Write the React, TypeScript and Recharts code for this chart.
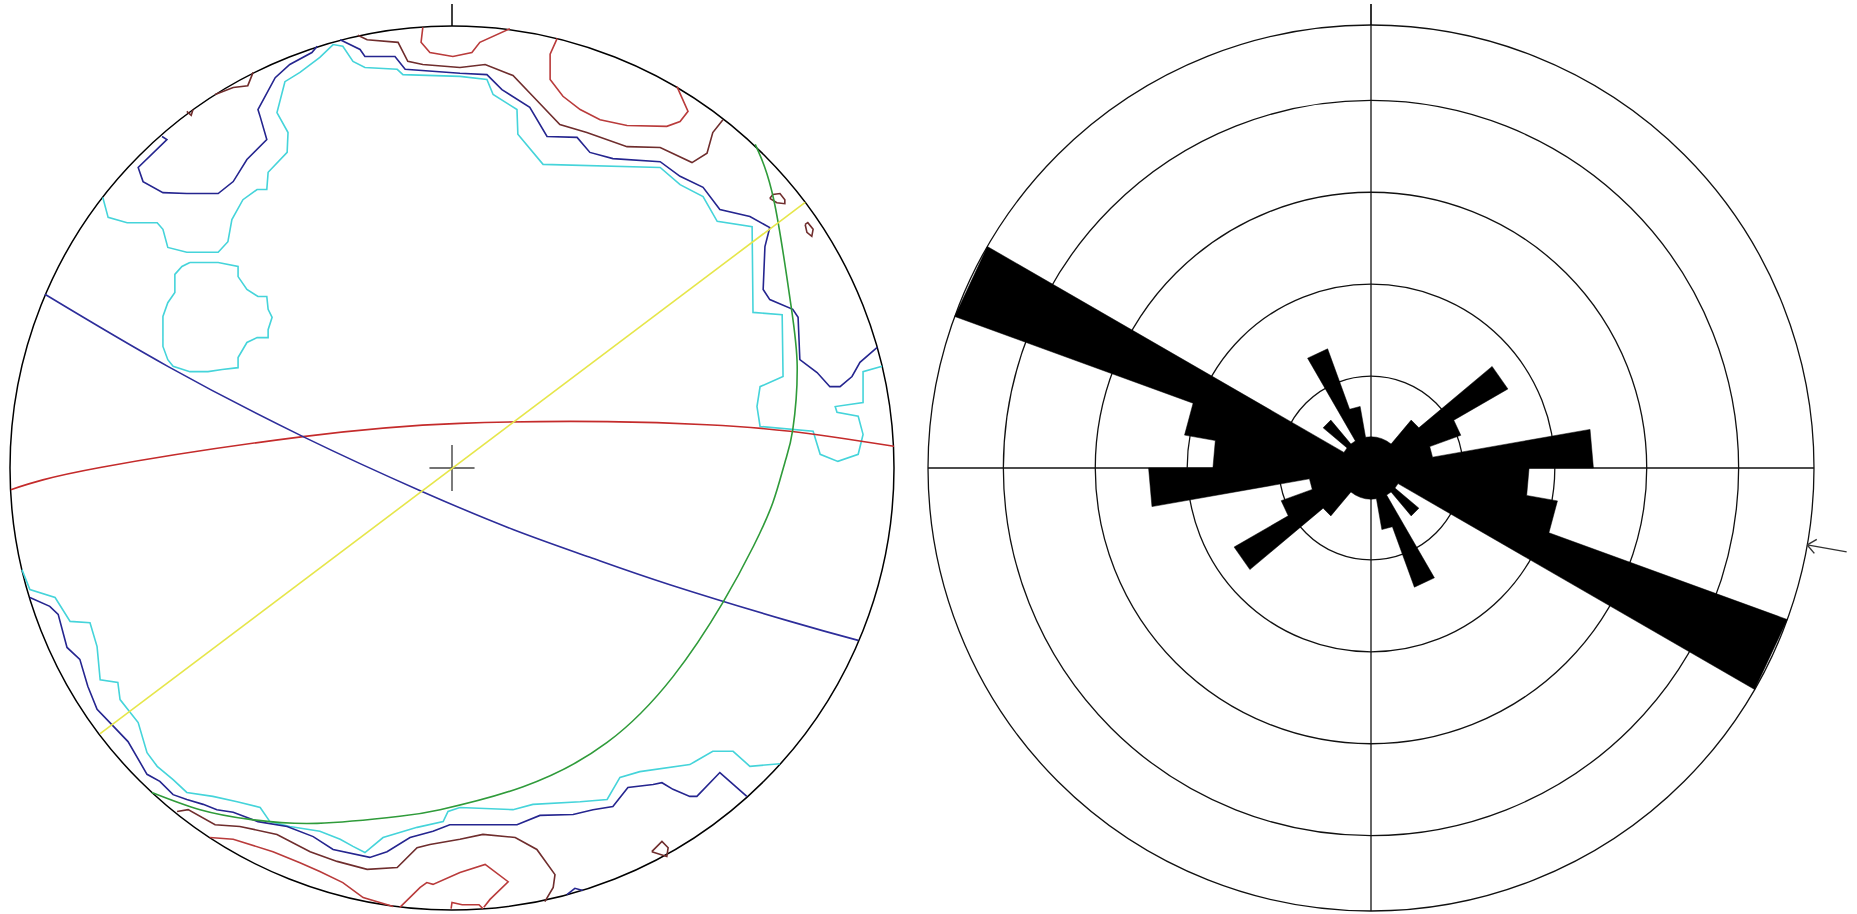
import React from "react";
import {
  ScatterChart,
  Scatter,
  XAxis,
  YAxis,
  ReferenceDot,
  ReferenceLine,
  RadarChart,
  Radar,
  PolarGrid,
  PolarAngleAxis,
  PolarRadiusAxis,
} from "recharts";

// ---------- stereonet (unit-circle projection coords, x east, y north) ----------

const cyanNorth = [
  [-0.79, 0.612], [-0.778, 0.567], [-0.735, 0.555], [-0.667, 0.555], [-0.654, 0.54],
  [-0.643, 0.499], [-0.6, 0.488], [-0.529, 0.488], [-0.507, 0.512], [-0.498, 0.562],
  [-0.473, 0.607], [-0.441, 0.63], [-0.419, 0.63], [-0.416, 0.669], [-0.373, 0.714],
  [-0.371, 0.759], [-0.396, 0.804], [-0.378, 0.874], [-0.344, 0.895], [-0.299, 0.929],
  [-0.269, 0.958], [-0.247, 0.954], [-0.224, 0.92], [-0.197, 0.906], [-0.124, 0.902],
  [-0.111, 0.89], [0.018, 0.886], [0.079, 0.879], [0.093, 0.845], [0.147, 0.811],
  [0.149, 0.755], [0.206, 0.687], [0.471, 0.68], [0.516, 0.641], [0.568, 0.614],
  [0.6, 0.558], [0.679, 0.546], [0.681, 0.352], [0.747, 0.347], [0.749, 0.207],
  [0.697, 0.184], [0.69, 0.139], [0.697, 0.094], [0.817, 0.083], [0.833, 0.031],
  [0.873, 0.015], [0.919, 0.031], [0.93, 0.076], [0.919, 0.117], [0.871, 0.126],
  [0.867, 0.139], [0.93, 0.148], [0.93, 0.218], [0.973, 0.23],
];

const cyanIsland = [
  [-0.593, 0.465], [-0.529, 0.465], [-0.484, 0.456], [-0.484, 0.433], [-0.464, 0.404],
  [-0.439, 0.388], [-0.419, 0.388], [-0.416, 0.359], [-0.407, 0.341], [-0.416, 0.313],
  [-0.416, 0.295], [-0.441, 0.295], [-0.464, 0.284], [-0.484, 0.25], [-0.484, 0.227],
  [-0.52, 0.223], [-0.552, 0.218], [-0.593, 0.218], [-0.631, 0.23], [-0.643, 0.245],
  [-0.654, 0.275], [-0.654, 0.343], [-0.643, 0.374], [-0.627, 0.397], [-0.627, 0.438],
  [-0.611, 0.456], [-0.593, 0.465],
];

const cyanSouth = [
  [-0.973, -0.23], [-0.955, -0.275], [-0.898, -0.293], [-0.864, -0.347], [-0.819, -0.35],
  [-0.803, -0.404], [-0.796, -0.479], [-0.756, -0.485], [-0.751, -0.524], [-0.71, -0.576],
  [-0.69, -0.644], [-0.667, -0.675], [-0.631, -0.705], [-0.6, -0.734], [-0.541, -0.743],
  [-0.486, -0.755], [-0.434, -0.768], [-0.412, -0.8], [-0.367, -0.811], [-0.299, -0.822],
  [-0.253, -0.84], [-0.224, -0.856], [-0.197, -0.87], [-0.156, -0.836], [-0.079, -0.813],
  [-0.02, -0.8], [-0.009, -0.777], [0.018, -0.768], [0.138, -0.773], [0.183, -0.761],
  [0.29, -0.755], [0.351, -0.75], [0.38, -0.7], [0.425, -0.687], [0.538, -0.671],
  [0.55, -0.664], [0.59, -0.641], [0.636, -0.641], [0.674, -0.675], [0.742, -0.669],
];

const navyNorthWest = [
  [-0.656, 0.75], [-0.645, 0.743], [-0.71, 0.68], [-0.699, 0.648], [-0.654, 0.623],
  [-0.6, 0.621], [-0.529, 0.621], [-0.495, 0.648], [-0.464, 0.698], [-0.419, 0.743],
  [-0.434, 0.795], [-0.439, 0.811], [-0.4, 0.883], [-0.367, 0.913], [-0.317, 0.94],
  [-0.305, 0.954],
];

const navyNorth = [
  [-0.253, 0.969], [-0.208, 0.947], [-0.197, 0.931], [-0.129, 0.931], [-0.106, 0.902],
  [0.018, 0.893], [0.079, 0.89], [0.113, 0.856], [0.176, 0.816], [0.215, 0.75],
  [0.283, 0.748], [0.312, 0.714], [0.364, 0.7], [0.471, 0.693], [0.516, 0.66],
  [0.568, 0.635], [0.606, 0.585], [0.674, 0.569], [0.719, 0.544], [0.708, 0.501],
  [0.704, 0.404], [0.719, 0.381], [0.771, 0.359], [0.783, 0.341], [0.787, 0.245],
  [0.826, 0.216], [0.855, 0.184], [0.878, 0.184], [0.905, 0.207], [0.923, 0.239],
  [0.962, 0.273],
];

const navySouth = [
  [-0.955, -0.293], [-0.91, -0.313], [-0.891, -0.331], [-0.871, -0.406], [-0.842, -0.433],
  [-0.824, -0.494], [-0.803, -0.546], [-0.774, -0.576], [-0.733, -0.619], [-0.69, -0.693],
  [-0.661, -0.709], [-0.631, -0.739], [-0.6, -0.75], [-0.563, -0.761], [-0.532, -0.773],
  [-0.495, -0.779], [-0.439, -0.8], [-0.373, -0.811], [-0.314, -0.834], [-0.269, -0.863],
  [-0.186, -0.881], [-0.147, -0.868], [-0.095, -0.836], [-0.043, -0.822], [-0.005, -0.807],
  [0.147, -0.807], [0.199, -0.786], [0.274, -0.784], [0.319, -0.773], [0.364, -0.766],
  [0.398, -0.723], [0.455, -0.716], [0.475, -0.712], [0.5, -0.727], [0.538, -0.743],
  [0.554, -0.743], [0.606, -0.689], [0.667, -0.743],
];

const navySouthSpeck = [[0.26, -0.965], [0.278, -0.951], [0.296, -0.956]];

const brownNorth = [
  [-0.213, 0.979], [-0.192, 0.969], [-0.122, 0.963], [-0.1, 0.92], [-0.066, 0.913],
  [0.018, 0.906], [0.075, 0.913], [0.138, 0.888], [0.183, 0.841], [0.244, 0.777],
  [0.305, 0.759], [0.396, 0.727], [0.471, 0.725], [0.543, 0.691], [0.577, 0.712],
  [0.59, 0.759], [0.613, 0.788],
];

const brownNorthWest = [[-0.536, 0.845], [-0.495, 0.861], [-0.462, 0.865], [-0.45, 0.895]];
const brownSpeck = [[-0.6, 0.807], [-0.59, 0.798], [-0.586, 0.811]];

const brownLoopA = [
  [0.719, 0.61], [0.726, 0.619], [0.742, 0.621], [0.753, 0.607], [0.753, 0.598],
  [0.735, 0.6], [0.719, 0.61],
];

const brownLoopB = [
  [0.799, 0.551], [0.805, 0.555], [0.817, 0.54], [0.814, 0.524], [0.803, 0.533],
  [0.799, 0.551],
];

const brownSouth = [
  [-0.622, -0.777], [-0.597, -0.773], [-0.536, -0.807], [-0.48, -0.811], [-0.396, -0.829],
  [-0.321, -0.868], [-0.26, -0.89], [-0.192, -0.908], [-0.124, -0.904], [-0.079, -0.859],
  [-0.05, -0.852], [0.018, -0.84], [0.07, -0.829], [0.143, -0.836], [0.192, -0.863],
  [0.233, -0.92], [0.229, -0.949], [0.21, -0.981],
];

const brownLoopSE = [[0.452, -0.868], [0.475, -0.845], [0.489, -0.859], [0.486, -0.879], [0.452, -0.868]];

const redNorth = [
  [-0.066, 0.997], [-0.07, 0.963], [-0.05, 0.94], [0.002, 0.931], [0.045, 0.94],
  [0.063, 0.963], [0.131, 0.994],
];

const redNorthEast = [
  [0.238, 0.972], [0.222, 0.936], [0.222, 0.879], [0.251, 0.841], [0.29, 0.811],
  [0.335, 0.788], [0.396, 0.775], [0.486, 0.773], [0.516, 0.784], [0.534, 0.807],
  [0.509, 0.863],
];

const redSouth = [
  [-0.548, -0.836], [-0.495, -0.84], [-0.405, -0.868], [-0.344, -0.893], [-0.299, -0.913],
  [-0.247, -0.938], [-0.201, -0.972], [-0.133, -0.992],
];

const redSouthLoop = [
  [-0.118, -0.994], [-0.072, -0.949], [-0.057, -0.938], [-0.043, -0.942], [0.018, -0.915],
  [0.075, -0.897], [0.127, -0.936], [0.086, -0.976], [0.072, -0.994],
];

const redSouthSpeck = [[-0.002, -0.997], [0.0, -0.983], [0.023, -0.988], [0.061, -0.988], [0.07, -0.997]];

// great circles / section line
const greatCircleBlue = [
  [-0.921, 0.393], [-0.643, 0.23], [-0.337, 0.071], [-0.068, -0.053], [0.138, -0.139],
  [0.312, -0.202], [0.493, -0.264], [0.765, -0.347], [0.919, -0.39],
];

const greatCircleRed = [
  [-0.998, -0.049], [-0.796, 0.001], [-0.337, 0.071], [0.018, 0.101],
  [0.351, 0.105], [0.577, 0.098], [0.765, 0.083], [1.0, 0.049],
];

const greatCircleGreen = [
  [0.686, 0.732], [0.728, 0.607], [0.765, 0.381], [0.781, 0.23], [0.771, 0.087],
  [0.753, 0.012], [0.726, -0.078], [0.682, -0.177], [0.613, -0.304], [0.5, -0.472],
  [0.351, -0.621], [0.161, -0.721], [-0.027, -0.773], [-0.118, -0.788], [-0.305, -0.804],
  [-0.457, -0.795], [-0.57, -0.773], [-0.679, -0.734],
];

const sectionLine = [[0.799, 0.601], [-0.796, -0.601]];

// ---------- rose diagram (axial data, % per 10° bin, 0–180 mirrored to 180–360) ----------

const BIN_WIDTH = 10;
const binStart = [0, 10, 20, 30, 40, 50, 60, 70, 80, 90, 100, 110, 120, 130, 140, 150, 160, 170];
const binPct = [1.7, 1.7, 1.7, 1.7, 3.4, 8.6, 5.2, 3.4, 12.1, 8.6, 10.3, 24.1, 1.7, 3.4, 1.7, 6.9, 3.4, 1.7];
const ringPct = [5, 10, 15, 20];
const NORTH_MARK = 0;
const ARROW_AZIMUTH = 100;

const MAX_PCT = Math.max(...binPct);

const roseBins = [
  ...binStart.map((a, i) => ({ from: a, pct: binPct[i] })),
  ...binStart.map((a, i) => ({ from: a + 180, pct: binPct[i] })),
];
const roseData = roseBins.flatMap((b) => [
  { angle: b.from, pct: b.pct },
  { angle: b.from + BIN_WIDTH, pct: b.pct },
]);

// ---------- layout ----------
const NET_R = 442;
const ROSE_R = 443;
const TICK_LEN = 40;

const xy = (p: number[][]) => p.map(([x, y]) => ({ x, y }));
const NoDot = () => <g />;

const CYAN = "#45d4da";
const NAVY = "#25258f";
const BROWN = "#6f2d2d";
const RED = "#b93b3b";

const contours: Array<[number[][], string]> = [
  [cyanNorth, CYAN], [cyanIsland, CYAN], [cyanSouth, CYAN],
  [navyNorthWest, NAVY], [navyNorth, NAVY], [navySouth, NAVY], [navySouthSpeck, NAVY],
  [brownNorth, BROWN], [brownNorthWest, BROWN], [brownSpeck, BROWN], [brownLoopA, BROWN],
  [brownLoopB, BROWN], [brownSouth, BROWN], [brownLoopSE, BROWN],
  [redNorth, RED], [redNorthEast, RED], [redSouth, RED], [redSouthLoop, RED], [redSouthSpeck, RED],
];

const greatCircles: Array<[number[][], string, string]> = [
  [greatCircleRed, "#c42b2b", "natural"],
  [greatCircleBlue, "#2d2d9a", "natural"],
  [greatCircleGreen, "#2f9b3a", "natural"],
  [sectionLine, "#e6e64a", "linear"],
];

function RoseMarker(props: any) {
  const { x, y, payload } = props;
  const deg = typeof payload?.coordinate === "number" ? payload.coordinate : 90 - payload.value;
  const a = (deg * Math.PI) / 180;
  const ux = Math.cos(-a);
  const uy = Math.sin(-a);
  const bx = x - ux * TICK_LEN;
  const by = y - uy * TICK_LEN;
  if (payload.value === NORTH_MARK) {
    return <line x1={bx} y1={by} x2={bx + ux * 21} y2={by + uy * 21} stroke="#000" strokeWidth={1.6} />;
  }
  const s = (40 * Math.PI) / 180;
  const h = 11;
  const rot = (t: number) => [ux * Math.cos(t) - uy * Math.sin(t), ux * Math.sin(t) + uy * Math.cos(t)];
  const [ax, ay] = rot(s);
  const [cx2, cy2] = rot(-s);
  return (
    <g stroke="#333" strokeWidth={1.4} fill="none">
      <line x1={bx} y1={by} x2={x} y2={y} />
      <line x1={bx} y1={by} x2={bx + ax * h} y2={by + ay * h} />
      <line x1={bx} y1={by} x2={bx + cx2 * h} y2={by + cy2 * h} />
    </g>
  );
}

export default function App() {
  const ringRadii = [...ringPct.map((p) => (p / MAX_PCT) * ROSE_R), ROSE_R];
  return (
    <div style={{ position: "absolute", left: 0, top: 0, width: 1857, height: 914, background: "#fff", overflow: "hidden" }}>
      <style>{"body{margin:0;overflow:hidden}"}</style>

      <div style={{ position: "absolute", left: 0, top: 0 }}>
        <ScatterChart width={904} height={914} margin={{ top: 26, right: 10, bottom: 4, left: 10 }}>
          <XAxis type="number" dataKey="x" domain={[-1, 1]} hide allowDataOverflow />
          <YAxis type="number" dataKey="y" domain={[-1, 1]} hide allowDataOverflow />
          <ReferenceDot x={0} y={0} r={NET_R} fill="none" stroke="#000" strokeWidth={1.5} ifOverflow="visible" />
          <ReferenceLine segment={[{ x: 0, y: 1 }, { x: 0, y: 1.05 }]} stroke="#000" strokeWidth={1.5} ifOverflow="visible" />
          {contours.map(([p, c], i) => (
            <Scatter
              key={"c" + i}
              data={xy(p)}
              fill={c}
              line={{ stroke: c, strokeWidth: 1.6 }}
              lineJointType="linear"
              shape={NoDot}
              isAnimationActive={false}
            />
          ))}
          {greatCircles.map(([p, c, t], i) => (
            <Scatter
              key={"g" + i}
              data={xy(p)}
              fill={c}
              line={{ stroke: c, strokeWidth: 1.6 }}
              lineJointType={t as any}
              shape={NoDot}
              isAnimationActive={false}
            />
          ))}
          <ReferenceLine segment={[{ x: -0.051, y: 0 }, { x: 0.051, y: 0 }]} stroke="#444" strokeWidth={1.4} ifOverflow="visible" />
          <ReferenceLine segment={[{ x: 0, y: -0.052 }, { x: 0, y: 0.052 }]} stroke="#444" strokeWidth={1.4} ifOverflow="visible" />
        </ScatterChart>
      </div>

      <div style={{ position: "absolute", left: 911, top: 0 }}>
        <RadarChart
          width={946}
          height={914}
          cx={460}
          cy={468}
          innerRadius={0}
          outerRadius={ROSE_R}
          startAngle={90}
          endAngle={-270}
          data={roseData}
          margin={{ top: 0, right: 0, bottom: 0, left: 0 }}
        >
          <PolarGrid
            gridType="circle"
            polarRadius={ringRadii}
            polarAngles={[0, 90, 180, 270]}
            stroke="#111"
            strokeWidth={1.3}
          />
          <PolarAngleAxis
            type="number"
            dataKey="angle"
            domain={[0, 360]}
            ticks={[NORTH_MARK, ARROW_AZIMUTH]}
            tickSize={TICK_LEN}
            tickLine={false}
            axisLine={false}
            tick={RoseMarker}
          />
          <PolarRadiusAxis type="number" domain={[0, MAX_PCT]} allowDataOverflow tick={false} axisLine={false} />
          <Radar
            dataKey="pct"
            fill="#000"
            fillOpacity={1}
            stroke="#000"
            strokeWidth={0.5}
            dot={false}
            isAnimationActive={false}
          />
        </RadarChart>
      </div>
    </div>
  );
}
